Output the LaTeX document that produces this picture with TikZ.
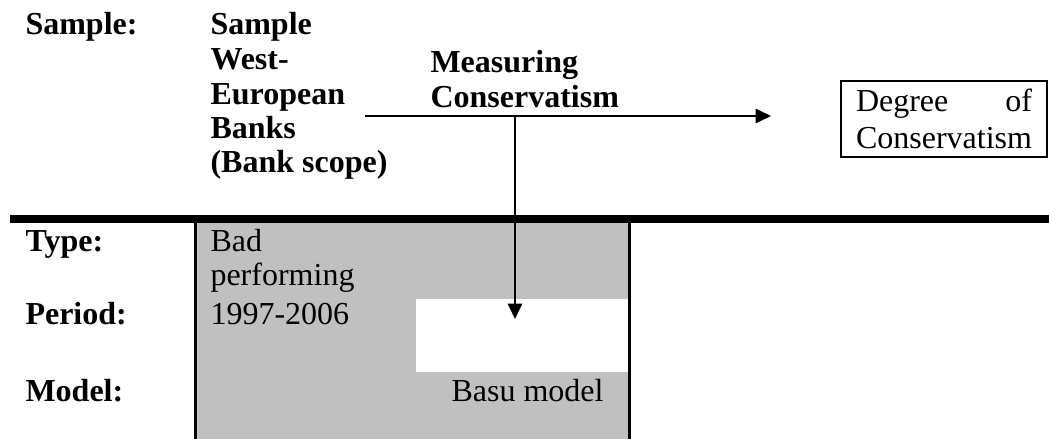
\documentclass[tikz,border=0pt]{standalone}
\usepackage{fontspec}
\setmainfont{Liberation Serif}
\usetikzlibrary{arrows.meta}
\definecolor{cellgray}{RGB}{192,192,192}
\tikzset{
  lbl/.style={anchor=base west, inner sep=0pt, font=\bfseries\fontsize{12}{14}\selectfont},
  txt/.style={anchor=base west, inner sep=0pt, font=\fontsize{12}{14}\selectfont},
  conn/.style={line width=0.75pt, -{Triangle[length=5.8pt,width=5.4pt]}},
  border/.style={line width=1.1pt},
}
\begin{document}
\begin{tikzpicture}[x=0.375pt,y=-0.375pt]
\useasboundingbox (0,0) rectangle (1049,439);
% grey cell and white patch
\fill[cellgray] (197,223) rectangle (628,439);
\fill[white] (416,299) rectangle (628,372);
% borders
\draw[border] (195.5,223) -- (195.5,439);
\draw[border] (629.5,223) -- (629.5,439);
\draw[line width=3pt] (10,219) -- (1049,219);
% top texts
\node[lbl] (samplelbl) at (25,35) {Sample:};
\node[lbl] (s1) at (210,35) {Sample};
\node[lbl] (s2) at (210,69.5) {West-};
\node[lbl] (s3) at (210,104) {European};
\node[lbl] (s4) at (210,138.5) {Banks};
\node[lbl] (s5) at (210,173) {(Bank scope)};
\node[lbl] (m1) at (430,73) {Measuring};
\node[lbl] (m2) at (430,107) {Conservatism};
% result box
\node[draw, line width=0.75pt, minimum width=77.25pt, minimum height=28.5pt,
      text width=66pt, align=left, inner sep=0pt, font=\fontsize{12}{13.9}\selectfont]
      (deg) at (944,119) {Degree\hfill of\\Conservatism};
% connectors
\coordinate (hstart) at (365,116);
\coordinate (hend) at (771,116);
\coordinate (vstart) at (515,116);
\coordinate (vend) at (515,319);
\draw[conn] (hstart) -- (hend);
\draw[conn] (vstart) -- (vend);
% bottom table
\node[lbl] (type) at (25,252) {Type:};
\node[lbl] (period) at (25,325) {Period:};
\node[lbl] (model) at (25,401) {Model:};
\node[txt] (bad) at (210,252) {Bad};
\node[txt] (perf) at (210,285) {performing};
\node[txt] (years) at (210,325) {1997-2006};
\node[txt] (basu) at (451,401) {Basu model};
\end{tikzpicture}
\end{document}
